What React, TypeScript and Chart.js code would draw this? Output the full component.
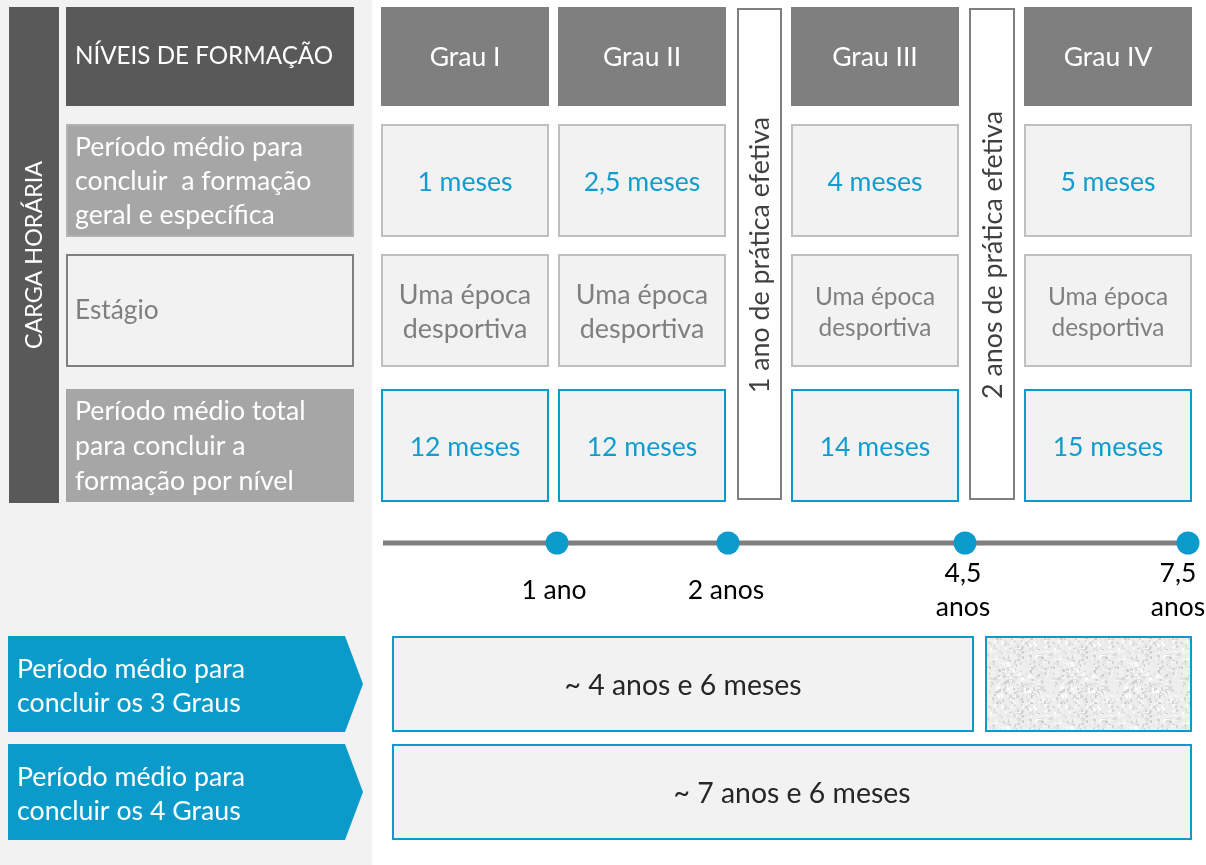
import React, { useEffect, useRef } from 'react';
import { Chart, registerables } from 'chart.js';

Chart.register(...registerables);

// ---------- DATA ----------
const headerTitle = 'NÍVEIS DE FORMAÇÃO';
const sideTitle = 'CARGA HORÁRIA';
const levels = ['Grau I', 'Grau II', 'Grau III', 'Grau IV'];
const rowLabels = [
  ['Período médio para', 'concluir  a formação', 'geral e específica'],
  ['Estágio'],
  ['Período médio total', 'para concluir a', 'formação por nível'],
];
const formationMonths = [1, 2.5, 4, 5];
const internship = ['Uma época desportiva', 'Uma época desportiva', 'Uma época desportiva', 'Uma época desportiva'];
const totalMonths = [12, 12, 14, 15];
const practiceLabels = ['1 ano de prática efetiva', '2 anos de prática efetiva'];
const milestoneYears = [1, 2, 4.5, 7.5];
const milestoneLabels = [['1 ano'], ['2 anos'], ['4,5', 'anos'], ['7,5', 'anos']];
const summaryLabels = [
  ['Período médio para', 'concluir os 3 Graus'],
  ['Período médio para', 'concluir os 4 Graus'],
];
const summaryValues = ['~ 4 anos e 6 meses', '~ 7 anos e 6 meses'];

// ---------- LAYOUT / STYLE ----------
const W = 1206;
const H = 865;
const FONT = 'Lato, "Open Sans", sans-serif';
const PANEL_X1 = 372;
const SIDE_BAR = { x: [9, 59], y: [7, 503] };
const LABEL_COL = [66, 354];
const GRAU_COLS = [[381, 549], [558, 726], [791, 959], [1024, 1192]];
const PRACTICE_COLS = [[737, 782], [969, 1015]];
const PRACTICE_Y = [8, 500];
const ROWS = [[7, 106], [124, 237], [254, 367], [389, 502]];
const TIMELINE_Y = 543;
const TIMELINE_X0 = 383;
const MILESTONE_X = [557, 728, 965, 1188];
const MILESTONE_LABEL_DX = [-3, -2, -2, -10];
const SUMMARY_ROWS = [[636, 732], [744, 840]];
const ARROW_X = [8, 345, 363];
const SUMMARY_BOX_X = [[392, 974], [392, 1192]];
const TEXTURE_BOX_X = [985, 1192];

const C = {
  panel: '#f2f2f2',
  dark: '#595959',
  mid: '#7f7f7f',
  light: '#a6a6a6',
  cell: '#f2f2f2',
  cellBorder: '#bfbfbf',
  blue: '#0a9bcb',
  blueText: '#129ccd',
  text: '#262626',
  grayText: '#7f7f7f',
};

const fmtMonths = (v: number) => `${String(v).replace('.', ',')} meses`;

function makeTexture(): HTMLCanvasElement {
  const c = document.createElement('canvas');
  c.width = 64;
  c.height = 64;
  const g = c.getContext('2d')!;
  g.fillStyle = '#eeeeee';
  g.fillRect(0, 0, 64, 64);
  let s = 12345;
  const rnd = () => {
    s = (s * 1103515245 + 12345) & 0x7fffffff;
    return s / 0x7fffffff;
  };
  for (let i = 0; i < 700; i++) {
    const v = Math.floor(205 + rnd() * 50);
    g.fillStyle = `rgb(${v},${v},${v})`;
    g.fillRect(Math.floor(rnd() * 64), Math.floor(rnd() * 64), 1 + Math.floor(rnd() * 3), 1 + Math.floor(rnd() * 3));
  }
  return c;
}

const drawPlugin = {
  id: 'infographic',
  beforeDatasetsDraw(chart: any) {
    const ctx: CanvasRenderingContext2D = chart.ctx;
    const xs = chart.scales.x;
    const ys = chart.scales.y;
    const px = (v: number) => xs.getPixelForValue(v);
    const py = (v: number) => ys.getPixelForValue(v);

    const box = (x: number[], y: number[], fill: string | CanvasPattern | null, stroke?: string, lw = 2) => {
      const x0 = px(x[0]), x1 = px(x[1]), y0 = py(y[0]), y1 = py(y[1]);
      if (fill) {
        ctx.fillStyle = fill as any;
        ctx.fillRect(x0, y0, x1 - x0, y1 - y0);
      }
      if (stroke) {
        ctx.strokeStyle = stroke;
        ctx.lineWidth = lw;
        ctx.strokeRect(x0 + lw / 2, y0 + lw / 2, x1 - x0 - lw, y1 - y0 - lw);
      }
    };
    const text = (t: string, x: number, y: number, size: number, color: string, align: CanvasTextAlign = 'center') => {
      ctx.font = `${size}px ${FONT}`;
      ctx.fillStyle = color;
      ctx.textAlign = align;
      ctx.textBaseline = 'middle';
      ctx.fillText(t, px(x), py(y));
    };
    const lines = (ls: string[], x: number, yc: number, gap: number, size: number, color: string, align: CanvasTextAlign = 'center') => {
      const start = yc - ((ls.length - 1) * gap) / 2;
      ls.forEach((l, i) => text(l, x, start + i * gap, size, color, align));
    };
    const vtext = (t: string, x: number, y: number, size: number, color: string) => {
      ctx.save();
      ctx.translate(px(x), py(y));
      ctx.rotate(-Math.PI / 2);
      ctx.font = `${size}px ${FONT}`;
      ctx.fillStyle = color;
      ctx.textAlign = 'center';
      ctx.textBaseline = 'middle';
      ctx.fillText(t, 0, 0);
      ctx.restore();
    };
    const mid = (r: number[]) => (r[0] + r[1]) / 2;

    ctx.save();
    // backgrounds
    box([0, W], [0, H], '#ffffff');
    box([0, PANEL_X1], [0, H], C.panel);

    // side bar
    box(SIDE_BAR.x, SIDE_BAR.y, C.dark);
    vtext(sideTitle, mid(SIDE_BAR.x), mid(SIDE_BAR.y), 23.3, '#ffffff');

    // header label
    box(LABEL_COL, ROWS[0], C.dark);
    text(headerTitle, LABEL_COL[0] + 9, mid(ROWS[0]), 24.2, '#ffffff', 'left');

    // row labels
    box(LABEL_COL, ROWS[1], C.light, '#b3b3b3', 2);
    lines(rowLabels[0], LABEL_COL[0] + 9, mid(ROWS[1]) + 1, 34, 26.7, '#ffffff', 'left');
    box(LABEL_COL, ROWS[2], C.cell, C.mid, 2);
    lines(rowLabels[1], LABEL_COL[0] + 9, mid(ROWS[2]), 34, 26.3, C.grayText, 'left');
    box(LABEL_COL, ROWS[3], C.light);
    lines(rowLabels[2], LABEL_COL[0] + 9, mid(ROWS[3]) + 1, 35, 26.7, '#ffffff', 'left');

    // grade columns
    GRAU_COLS.forEach((col, i) => {
      const cx = mid(col);
      box(col, ROWS[0], C.mid);
      text(levels[i], cx, mid(ROWS[0]) + 1, 26.5, '#ffffff');

      box(col, ROWS[1], C.cell, C.cellBorder, 2);
      text(fmtMonths(formationMonths[i]), cx, mid(ROWS[1]) + 2, 26.6, C.blueText);

      box(col, ROWS[2], C.cell, C.cellBorder, 2);
      const words = internship[i].split(' ');
      const l1 = words.slice(0, 2).join(' ');
      const l2 = words.slice(2).join(' ');
      const small = i >= 2;
      lines([l1, l2], cx, mid(ROWS[2]) + 2, small ? 31 : 34, small ? 24.4 : 26.9, C.grayText);

      box(col, ROWS[3], C.cell, C.blue, 2);
      text(fmtMonths(totalMonths[i]), cx, mid(ROWS[3]) + 2, 26.6, C.blueText);
    });

    // practice columns
    PRACTICE_COLS.forEach((col, i) => {
      box(col, PRACTICE_Y, '#ffffff', C.mid, 2);
      vtext(practiceLabels[i], mid(col) + 1, mid(PRACTICE_Y) + 1, 26.8, '#404040');
    });

    // milestone labels
    milestoneLabels.forEach((ls, i) => {
      lines(ls, MILESTONE_X[i] + MILESTONE_LABEL_DX[i], 590, 34, 26.5, '#000000');
    });

    // summary rows
    SUMMARY_ROWS.forEach((row, i) => {
      const [ax0, ax1, ax2] = ARROW_X.map(px);
      const y0 = py(row[0]), y1 = py(row[1]);
      ctx.fillStyle = C.blue;
      ctx.beginPath();
      ctx.moveTo(ax0, y0);
      ctx.lineTo(ax1, y0);
      ctx.lineTo(ax2, (y0 + y1) / 2);
      ctx.lineTo(ax1, y1);
      ctx.lineTo(ax0, y1);
      ctx.closePath();
      ctx.fill();
      lines(summaryLabels[i], 17, mid(row) + 2, 34, 26.7, '#ffffff', 'left');

      box(SUMMARY_BOX_X[i], row, C.cell, C.blue, 2);
      text(summaryValues[i], mid(SUMMARY_BOX_X[i]), mid(row) + 2, 28.4, C.text);
    });
    const pattern = ctx.createPattern(makeTexture(), 'repeat');
    box(TEXTURE_BOX_X, SUMMARY_ROWS[0], pattern, C.blue, 2);
    ctx.restore();
  },
};

export default function App() {
  const ref = useRef<HTMLCanvasElement>(null);

  useEffect(() => {
    if (!ref.current) return;
    const points = [{ x: TIMELINE_X0, y: TIMELINE_Y }].concat(
      milestoneYears.map((_, i) => ({ x: MILESTONE_X[i], y: TIMELINE_Y }))
    );
    const chart = new Chart(ref.current, {
      type: 'line',
      data: {
        datasets: [
          {
            label: 'Anos',
            data: points,
            borderColor: '#7f7f7f',
            borderWidth: 5,
            pointRadius: points.map((_, i) => (i === 0 ? 0 : 11.5)),
            pointBackgroundColor: C.blue,
            pointBorderWidth: 0,
            pointHoverRadius: 11.5,
            clip: false as any,
          },
        ],
      },
      options: {
        animation: false,
        responsive: false,
        devicePixelRatio: 1,
        layout: { padding: 0, autoPadding: false },
        events: [],
        scales: {
          x: { type: 'linear', min: 0, max: W, display: false },
          y: { type: 'linear', min: 0, max: H, reverse: true, display: false },
        },
        plugins: { legend: { display: false }, tooltip: { enabled: false } },
      },
      plugins: [drawPlugin],
    });
    return () => chart.destroy();
  }, []);

  return (
    <div style={{ position: 'absolute', left: 0, top: 0, width: W, height: H }}>
      <canvas ref={ref} width={W} height={H} style={{ display: 'block', width: W, height: H }} />
    </div>
  );
}
